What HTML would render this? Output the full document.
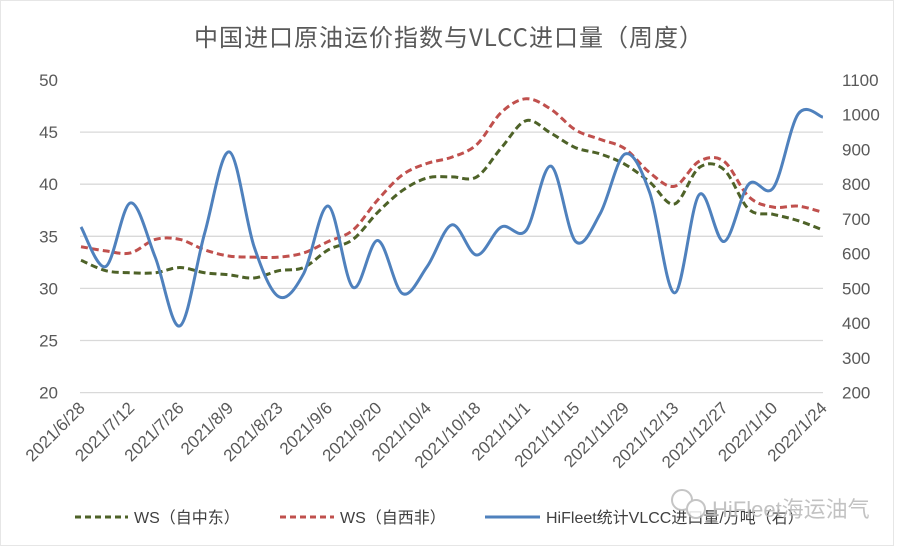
<!DOCTYPE html>
<html><head><meta charset="utf-8"><style>
html,body{margin:0;padding:0;background:#fff;}
svg{display:block;font-family:"Liberation Sans","Noto Sans CJK SC",sans-serif;}
</style></head><body>
<svg id="s" width="898" height="548" viewBox="0 0 898 548" xmlns="http://www.w3.org/2000/svg">
<rect x="0" y="0" width="898" height="548" fill="#fff"/>
<rect x="0.5" y="0.5" width="893" height="545" fill="none" stroke="#e6e6e6"/>
<text x="449" y="46" text-anchor="middle" font-size="24" fill="#595959" font-family="'Noto Sans CJK SC',sans-serif" letter-spacing="1">中国进口原油运价指数与VLCC进口量（周度）</text>
<g id="grid" stroke="#d9d9d9" stroke-width="1.3"></g>
<g id="yl" font-size="17" fill="#595959"></g>
<g id="xl" font-size="17" fill="#595959"></g>
<g id="series"></g>
<g font-size="16" fill="#404040">
<line x1="75" y1="517" x2="128" y2="517" stroke="#4e6228" stroke-width="3" stroke-dasharray="6,4"/>
<text x="134" y="523">WS（自中东）</text>
<line x1="280" y1="517" x2="334" y2="517" stroke="#c0504d" stroke-width="3" stroke-dasharray="6,4"/>
<text x="340" y="523">WS（自西非）</text>
<line x1="485" y1="517" x2="540" y2="517" stroke="#4f81bd" stroke-width="3"/>
<text x="546" y="523">HiFleet统计VLCC进口量/万吨（右）</text>
</g>
<g opacity="0.85">
<circle cx="682" cy="500" r="10" fill="#fff" stroke="#bbb" stroke-width="2"/>
<circle cx="696" cy="509" r="9" fill="#fff" stroke="#bbb" stroke-width="2"/>
<text x="712" y="517" font-size="22" fill="#b8b8b8">HiFleet海运油气</text>
</g>
</svg>
<script>
var S=document.getElementById('s'),NS='http://www.w3.org/2000/svg';
function el(p,t,a,txt){var e=document.createElementNS(NS,t);for(var k in a)e.setAttribute(k,a[k]);if(txt)e.textContent=txt;document.getElementById(p).appendChild(e);return e;}
function yL(v){return 80+(50-v)*10.42;}
function yR(v){return 80+(1100-v)*0.3473;}
for(var v=20;v<=45;v+=5){var y=yL(v);el('grid','line',{x1:80,x2:823,y1:y,y2:y});}
for(var v=20;v<=50;v+=5){el('yl','text',{x:58,y:yL(v)+6,'text-anchor':'end'},''+v);}
for(var v=200;v<=1100;v+=100){el('yl','text',{x:842,y:yR(v)+6},''+v);}
var X=function(i){return 81+24.73*i;};
var labs=['2021/6/28','2021/7/12','2021/7/26','2021/8/9','2021/8/23','2021/9/6','2021/9/20','2021/10/4','2021/10/18','2021/11/1','2021/11/15','2021/11/29','2021/12/13','2021/12/27','2022/1/10','2022/1/24'];
labs.forEach(function(l,k){var x=X(2*k)+5,y=409;el('xl','text',{x:x,y:y,'text-anchor':'end',transform:'rotate(-45 '+x+' '+y+')'},l);});
var blue=[677,563,746,590,392,659,893,620,476,542,737,503,638,485,563,683,596,677,667,852,635,716,887,775,487,770,635,800,790,1002,993];
var red=[34.0,33.6,33.4,34.7,34.7,33.7,33.1,33.0,33.0,33.4,34.5,35.6,38.5,40.9,42.0,42.6,43.8,46.9,48.2,47.2,45.2,44.3,43.4,41.1,39.8,42.2,42.2,38.8,37.8,37.9,37.3];
var green=[32.7,31.7,31.5,31.5,32.0,31.5,31.3,31.0,31.7,32.0,33.7,34.7,37.3,39.4,40.6,40.7,40.7,43.5,46.1,44.9,43.5,42.9,41.9,40.2,38.1,41.6,41.4,37.6,37.1,36.5,35.6];
function path(vals,f){var p=vals.map(function(v,i){return [X(i),f(v)];});var d='M'+p[0][0]+','+p[0][1];
for(var i=0;i<p.length-1;i++){var p0=p[i-1]||p[i],p1=p[i],p2=p[i+1],p3=p[i+2]||p2,t=6;
d+=' C'+(p1[0]+(p2[0]-p0[0])/t)+','+(p1[1]+(p2[1]-p0[1])/t)+' '+(p2[0]-(p3[0]-p1[0])/t)+','+(p2[1]-(p3[1]-p1[1])/t)+' '+p2[0]+','+p2[1];}return d;}
el('series','path',{d:path(green,yL),fill:'none',stroke:'#4e6228','stroke-width':3,'stroke-dasharray':'7,4'});
el('series','path',{d:path(red,yL),fill:'none',stroke:'#c0504d','stroke-width':3,'stroke-dasharray':'7,4'});
el('series','path',{d:path(blue,yR),fill:'none',stroke:'#4f81bd','stroke-width':3,'stroke-linejoin':'round'});
</script>
</body></html>
